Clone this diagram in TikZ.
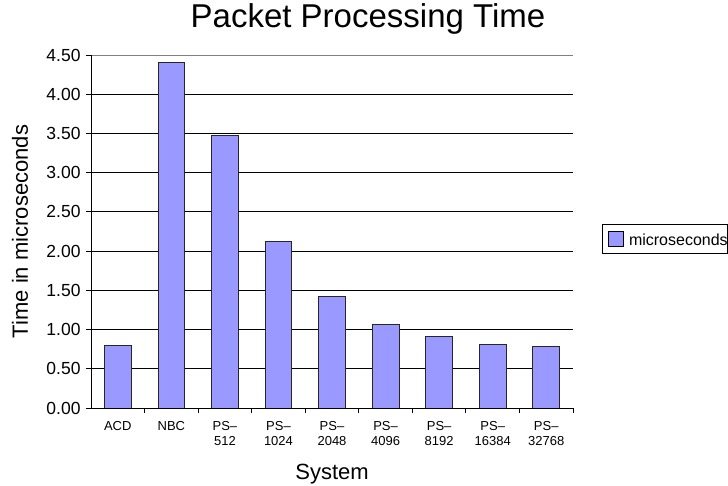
\documentclass[tikz,border=0pt]{standalone}
\usepackage{fontspec}
\setmainfont{Liberation Sans}
\usepackage{xcolor}
\usepackage{tikz}
\usetikzlibrary{positioning}
\definecolor{barblue}{HTML}{9999FF}
\definecolor{topgray}{HTML}{808080}

\begin{document}
\begin{tikzpicture}[x=53.56bp, y=78.44bp, line width=1bp]

	\tikzstyle{bar}=[draw=black!85, fill=barblue, line width=0.8bp]
	\tikzstyle{ticklabel}=[inner sep=0pt, anchor=east, font=\fontsize{17.5bp}{20bp}\selectfont]
	\tikzstyle{catlabel}=[inner sep=0pt, anchor=north, align=center, font=\fontsize{13bp}{15.5bp}\selectfont]
	\tikzstyle{axistitle}=[inner sep=0pt, font=\fontsize{22bp}{26bp}\selectfont]

	\useasboundingbox (-91bp,-78bp) rectangle (637bp,408bp);

	% gridlines, y ticks and their labels
	\foreach \v/\t/\n in {0/0.00/0, 0.5/0.50/1, 1/1.00/2, 1.5/1.50/3, 2/2.00/4,
		2.5/2.50/5, 3/3.00/6, 3.5/3.50/7, 4/4.00/8, 4.5/4.50/9} {
		\draw (-5bp,\v) -- (0,\v);
		\node[ticklabel] (ylab\n) at (-10bp,\v) {\t};
	}
	\foreach \v in {0.5,1,...,4} \draw (0,\v) -- (9,\v);
	\draw[topgray] (0,4.5) -- (9,4.5);

	% bars and categories
	\foreach \i/\v/\name in {0/0.80/ACD, 1/4.41/NBC, 2/3.47/{PS--\\512},
		3/2.12/{PS--\\1024}, 4/1.42/{PS--\\2048}, 5/1.07/{PS--\\4096},
		6/0.91/{PS--\\8192}, 7/0.81/{PS--\\16384}, 8/0.78/{PS--\\32768}} {
		\draw[bar] (\i+0.25,0) rectangle (\i+0.75,\v);
		\node[catlabel] (cat\i) at (\i+0.5,-12.8bp) {\name};
	}

	% axes
	\draw (0,0) -- (0,4.5);
	\draw (0,0) -- (9,0);
	\foreach \i in {1,...,9} \draw (\i,0) -- (\i,-5bp);

	% titles
	\node[inner sep=0pt, anchor=base, font=\fontsize{33bp}{38bp}\selectfont] (title) at (277bp,380bp) {Packet Processing Time};
	\node[axistitle, anchor=base] (xtitle) at (4.5,-71bp) {System};
	\node[axistitle, anchor=base, rotate=90] (ytitle) at (-63bp,2.25) {Time in microseconds};

	% legend
	\node[draw, inner sep=0pt, anchor=north west, minimum width=125bp, minimum height=29bp] (legend) at (511bp,184bp) {};
	\node[draw, fill=barblue, inner sep=0pt, minimum size=15bp] (swatch) at (524.5bp,168.5bp) {};
	\node[inner sep=0pt, anchor=west, right=5bp of swatch, font=\fontsize{16bp}{19bp}\selectfont] (legendtext) {microseconds};

\end{tikzpicture}
\end{document}
